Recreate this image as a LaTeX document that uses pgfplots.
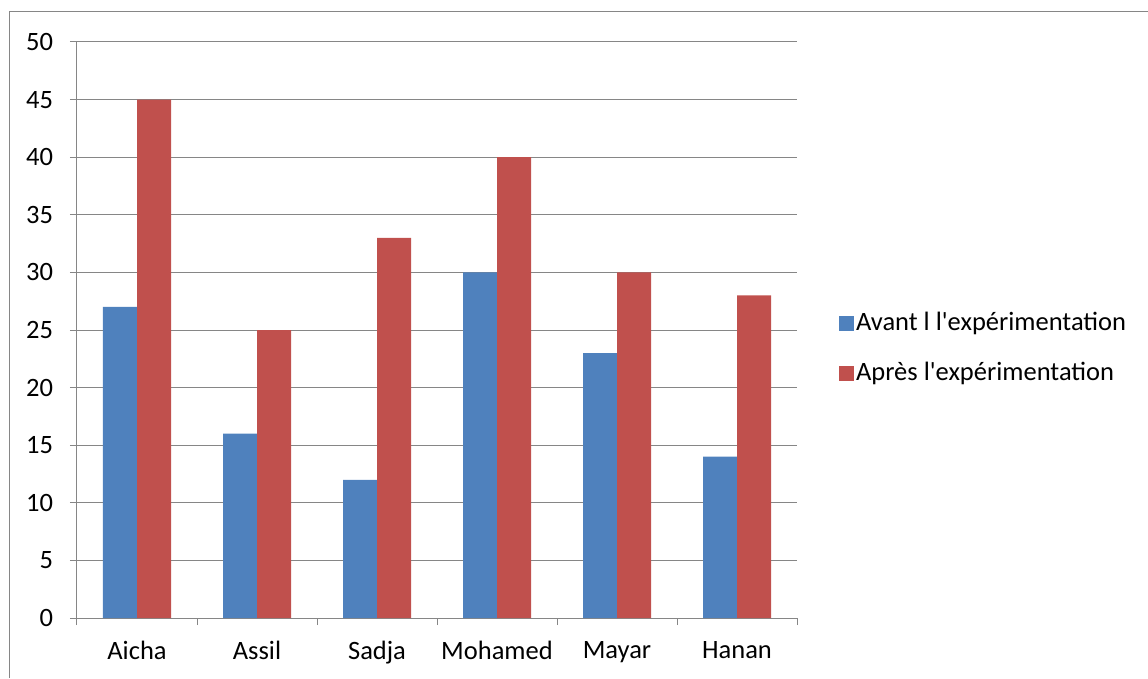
\documentclass[border=0pt]{standalone}
\usepackage{pgfplots}
\pgfplotsset{compat=1.18}
\usepackage{fontspec}
\setmainfont{Carlito}
\definecolor{cblue}{HTML}{4F81BD}
\definecolor{cred}{HTML}{C0504D}
\definecolor{cgrid}{HTML}{868686}
\begin{document}
\fontsize{26.5}{31}\selectfont
\begin{tikzpicture}[x=1pt,y=1pt]
\useasboundingbox (0,0) rectangle (1148,678);
\draw[cgrid,line width=1pt] (9,0) -- (9,666) -- (1148,666);
\begin{axis}[
  at={(77pt,60pt)}, anchor=south west,
  width=720pt, height=576pt, scale only axis,
  ybar=0pt, bar width=34pt,
  xmin=-0.5, xmax=5.5, ymin=0, ymax=50,
  ytick={0,5,...,50},
  xtick={0,...,5},
  xticklabels={Aicha,Assil,Sadja,Mohamed,Mayar,Hanan},
  minor xtick={-0.5,0.5,...,5.5},
  axis lines*=left,
  axis line style={cgrid,line width=1pt},
  ymajorgrids, grid style={cgrid,line width=1pt},
  tick align=outside,
  major tick length=7pt, minor tick length=7pt,
  y tick style={cgrid,line width=1pt},
  major x tick style={draw=none},
  minor x tick style={cgrid,line width=1pt},
  every tick label/.append style={font=\fontsize{26.5}{31}\selectfont, text=black},
  /pgf/number format/assume math mode=true,
  yticklabel style={xshift=-8pt},
  xticklabel style={yshift=-7pt},
  legend style={at={(1.054,0.468)}, anchor=west, draw=none, fill=none,
    font=\fontsize{26.5}{31}\selectfont, row sep=23pt,
    /tikz/every even column/.append style={column sep=0pt}},
  legend cell align=left,
  legend image code/.code={\fill[#1] (0pt,-7.5pt) rectangle (15pt,7.5pt);},
]
\addplot[fill=cblue, draw=none] coordinates {(0,27) (1,16) (2,12) (3,30) (4,23) (5,14)};
\addplot[fill=cred, draw=none] coordinates {(0,45) (1,25) (2,33) (3,40) (4,30) (5,28)};
\legend{Avant l l\textquotesingle expérimentation, Après l\textquotesingle expérimentation}
\end{axis}
\end{tikzpicture}
\end{document}
